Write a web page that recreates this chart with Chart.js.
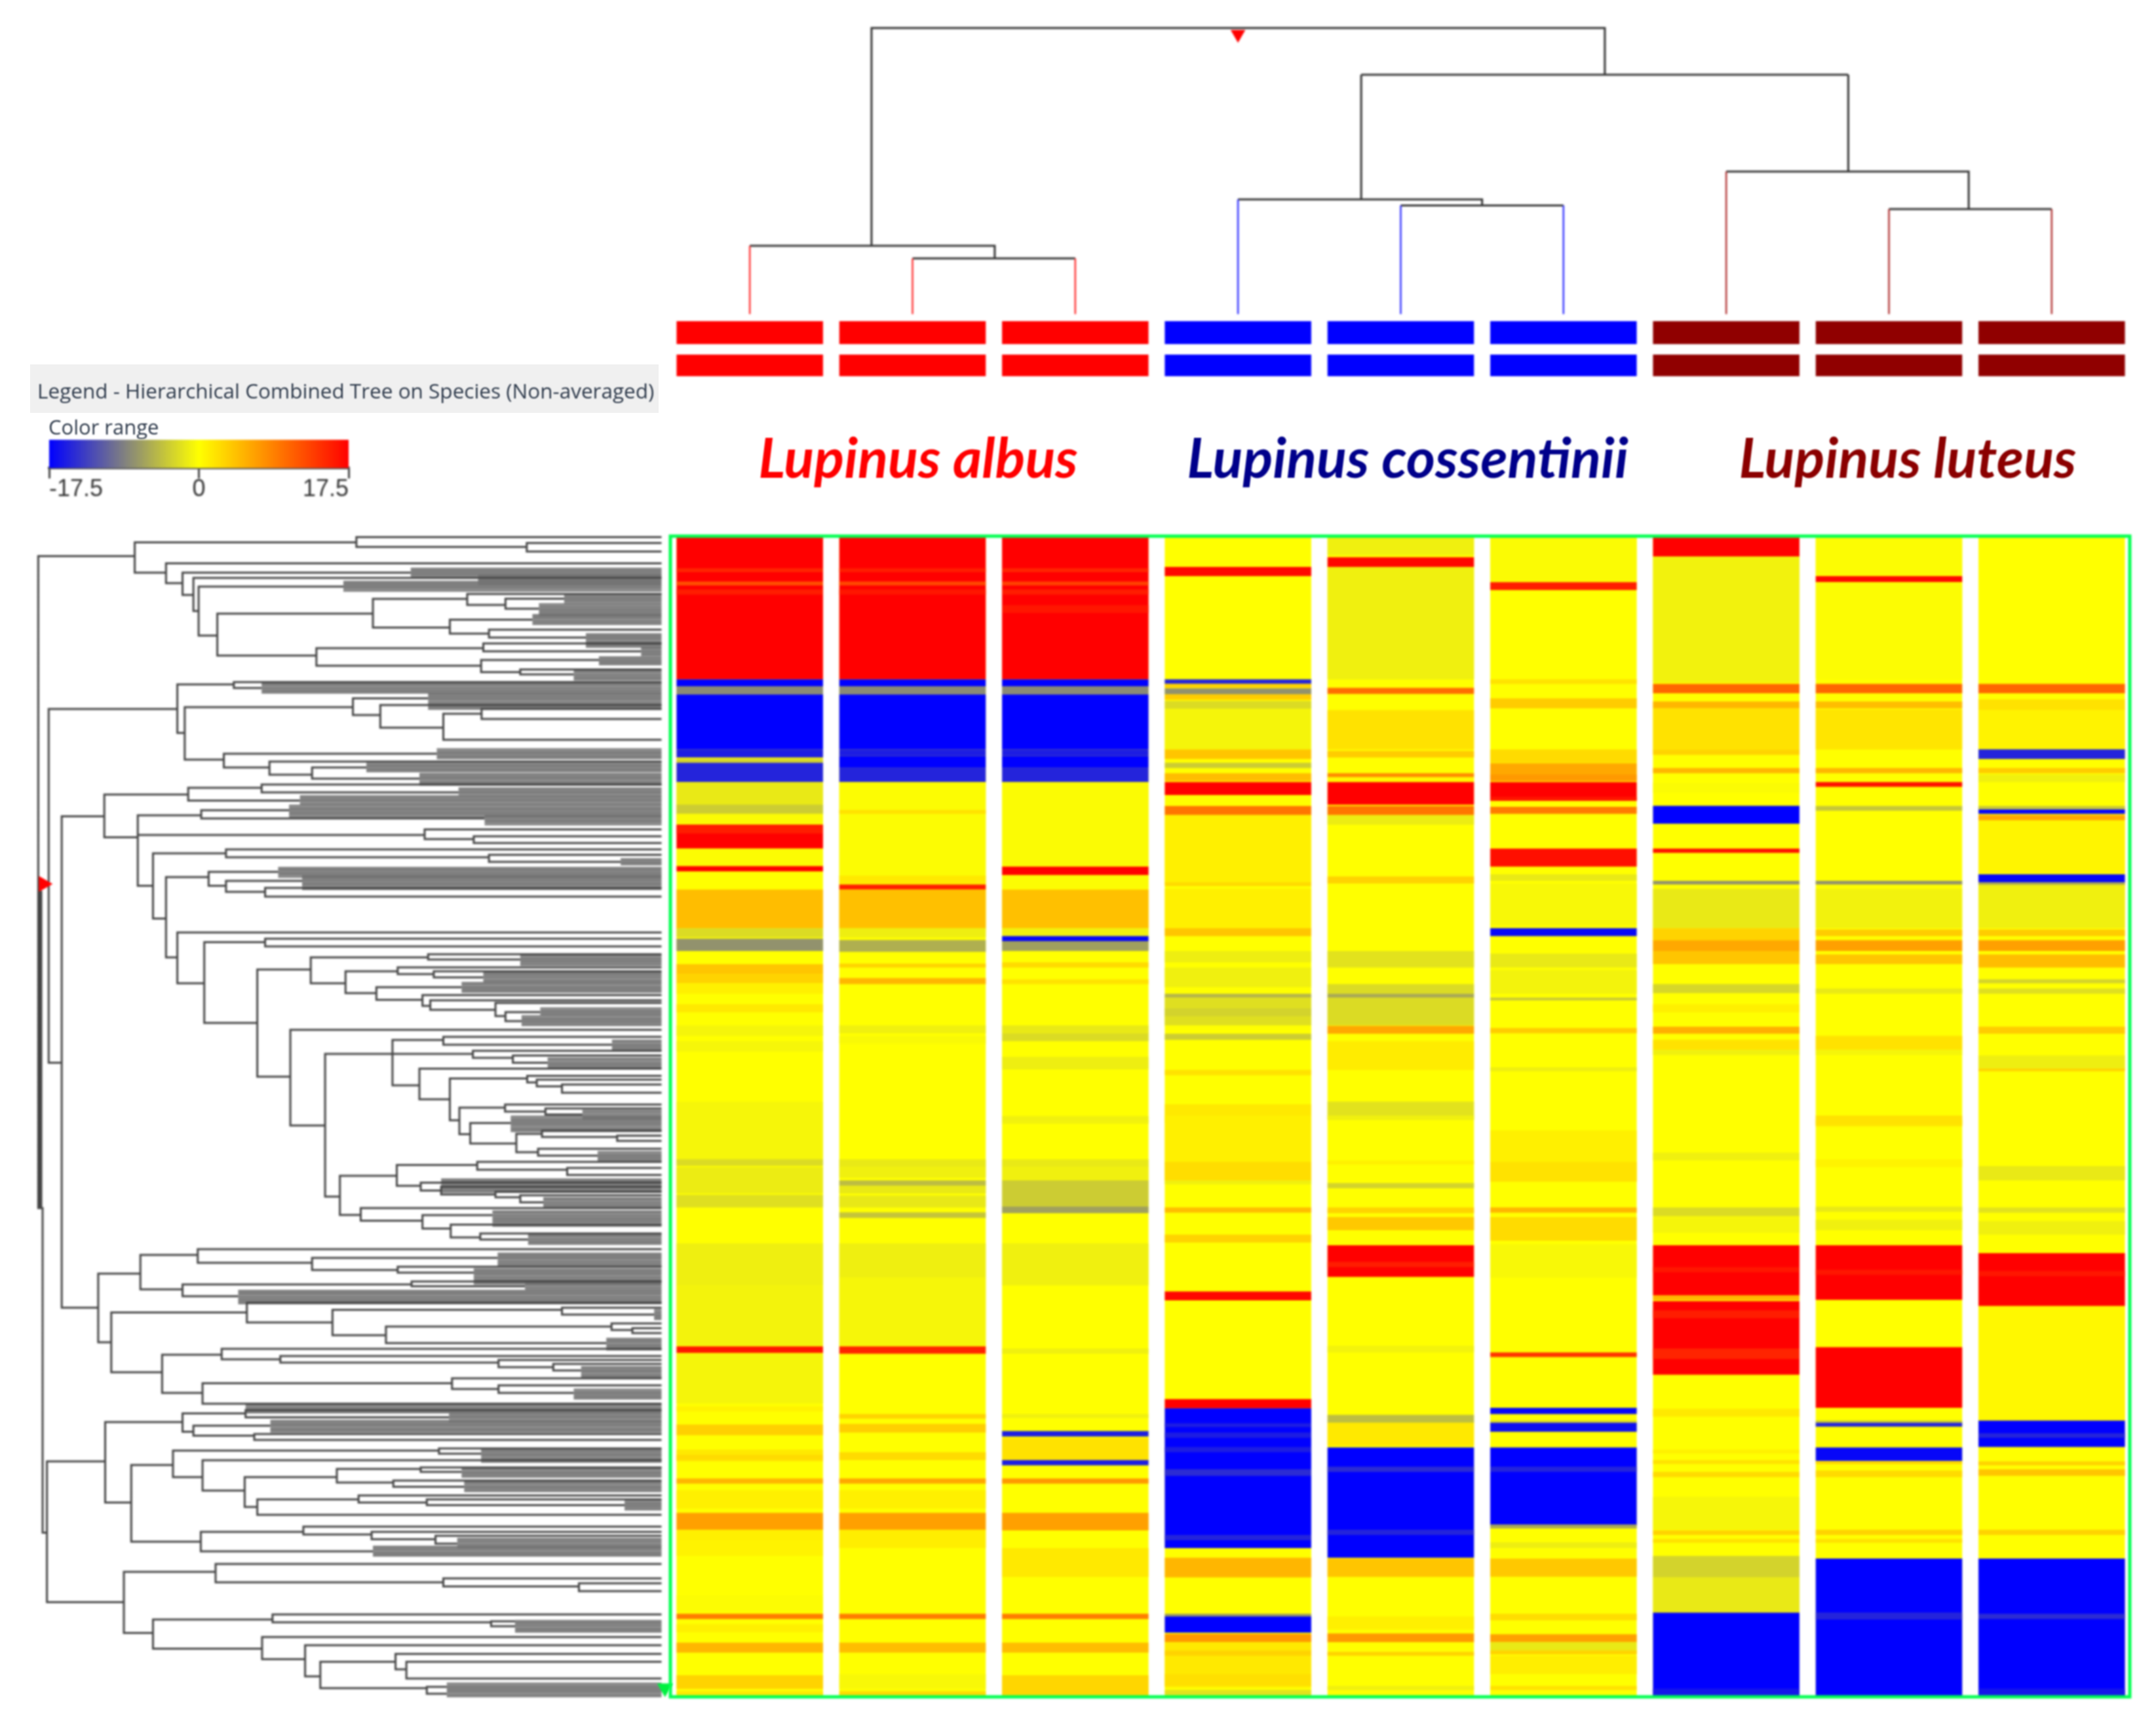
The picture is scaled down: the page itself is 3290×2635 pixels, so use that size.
<!DOCTYPE html>
<html lang="en">
<head>
  <meta charset="UTF-8" />
  <title>Hierarchical Combined Tree on Species</title>
  <script src="https://cdn.jsdelivr.net/npm/chart.js"></script>
  <style>
    body {
      margin: 0;
      background: #fff;
      width: 3290px;
      height: 2635px;
      position: relative;
      overflow: hidden;
    }
    canvas, .txt, #legendBand { position: absolute; }
    canvas { filter: blur(1.4px); }
    #legendBand { left: 46px; top: 556px; width: 959px; height: 74px; background: #f0f0f0; }
    .txt { white-space: nowrap; filter: blur(0.8px); }
    .legendText { font-family: "Open Sans", sans-serif; color: #2f3b4c; }
    .species {
      font-family: Lato, sans-serif;
      font-size: 85px;
      font-weight: bold;
      font-style: italic;
      line-height: 85px;
      width: 900px;
      text-align: center;
      top: 654px;
    }
  </style>
</head>
<body>
  <div id="legendBand"></div>
  <div class="txt legendText" style="left:57px;top:574px;font-size:31.5px">Legend - Hierarchical Combined Tree on Species (Non-averaged)</div>
  <div class="txt legendText" style="left:74px;top:630px;font-size:31px">Color range</div>
  <div class="txt species" style="left:951px;color:#ff0000">Lupinus albus</div>
  <div class="txt species" style="left:1698px;color:#00008b">Lupinus cossentinii</div>
  <div class="txt species" style="left:2461px;color:#8b0000">Lupinus luteus</div>

  <canvas id="topTree" width="2235" height="454" style="left:1020px;top:34px"></canvas>
  <canvas id="strips" width="2235" height="84" style="left:1020px;top:490px"></canvas>
  <canvas id="colorBar" width="467" height="103" style="left:70px;top:671px"></canvas>
  <canvas id="sideTree" width="1030" height="1794" style="left:0;top:807px"></canvas>
  <canvas id="heat" width="2235" height="1781" style="left:1020px;top:813px"></canvas>

  <script>
    Chart.defaults.animation = false;
    Chart.defaults.plugins.legend.display = false;
    Chart.defaults.plugins.tooltip.enabled = false;

    const samples = ['albus 1', 'albus 2', 'albus 3', 'cossentinii 1', 'cossentinii 2', 'cossentinii 3', 'luteus 1', 'luteus 2', 'luteus 3'];
    const stripColors = ['#ff0000', '#ff0000', '#ff0000', '#0000ff', '#0000ff', '#0000ff', '#900000', '#900000', '#900000'];
    const legendTicks = [-17.5, 0, 17.5];
    const rowCount = 441.4;

    // heat bands per sample: [first row, last row, log2 value]. later bands paint over earlier ones
    const albus1 = [[0,54.3,17.5],[12,13.5,15],[17,18.5,12],[20,22,15.5],[54.3,57,-17.5],[57,60,-8],[60,81,-17.5],[81,84,-15.5],[84.6,86,-3],[86,93.4,-15],
      [93.4,110,-1.5],[102,105.5,-3.5],[105.5,109.6,-0.3],[109.6,118.7,17.5],[110,113,15.5],[118.7,125.4,-0.2],[125.4,127.4,17.5],[134.3,149,4.5],[149,152.5,-2.5],[153,157.7,-7.5],
      [162.7,166.5,4],[166.5,170,3],[170,174,1],[178,181,1.5],[186,190,-0.7],[192,196,-0.6],[215,238,-0.6],[237,239.5,-2.5],[240,250,-1.3],[250.5,255.3,-2.2],[269,285,-1.1],[285,308,-0.8],
      [308.2,310.7,16],[311,330,-0.7],[331,333,0.8],[338,342,3.2],[347.5,352,1.5],[349.5,351.5,2.5],[358.5,360.5,5],[363,370,1],[371.6,378,6.5],[378,382,1],[382,388,0.8],
      [403,409,-0.2],[410,412,9],[414,417,1],[421,424.8,5],[433.4,438.6,3],[439.5,442.4,1.5]];
    const albus2 = [[0,54.3,17.5],[12,13.5,15.5],[17,18.5,12.5],[20,22,16],[54.3,57,-17.5],[57,60,-8],[60,81,-17.5],[81,83.5,-15.5],[83.5,88,-17.5],[88,93.4,-15],
      [93.4,150,-0.2],[104,105.5,2],[129,132,1.5],[132.4,134.3,15.5],[134.3,149,4.3],[149,152.5,-1.2],[153.5,158,-5.5],[162.5,164,3],[168,170.3,5],[186,189,-1],[190,193,-0.4],
      [237,240,-1.5],[240,244,-1],[245,247,-4.5],[247,250,-1.5],[250.8,255.3,-1.6],[257.2,259.3,-4],[269,282,-1.1],[282,308,-0.6],[308.2,311,15],[334,335.7,3],[337.7,341,3.3],[348.5,351.5,2.5],
      [358.5,360.5,6],[363,370,1],[371.6,378.3,6.5],[378,385,1.2],[410,412,9],[421,424.8,4.5],[433,438.6,-0.5],[439.5,442.4,2.5]];
    const albus3 = [[0,54.3,17.5],[12,13.5,15],[17,18.5,13],[20,22,15.5],[26,29,16],[54.3,57,-17.5],[57,60,-8],[60,81,-17.5],[81,83.5,-15.5],[83.5,88,-17.5],[88,93.4,-15],
      [93.4,125.5,-0.3],[125.6,128.8,17.5],[128.8,134,-0.2],[134.3,149,4.3],[149,152,-1],[152,154,-17],[154,157.7,-6.5],[162,164,2.5],[168.5,170.3,2],[186,189,-1.5],[189,192,-2.5],[198,202.8,-1.2],[222,223.5,-0.8],
      [220.5,222.5,-1],[237,240,-1.5],[240,245,-1],[245,250,-3.5],[250,255,-3.5],[255,257.5,-6.5],[269,285,-1],[309,311,-1],[334,335.5,-1],[340.5,342.5,-15.5],[343,352,2],[351.5,353.5,-15.5],
      [358.5,360.5,7],[371.6,378.3,6.5],[385,396,1.5],[410,412,9],[421,424.8,4.5],[433.4,442.4,2.8]];
    const cossentinii1 = [[11.5,15,17],[54.3,56,-15],[56,57.5,3],[57.7,60,-7.5],[60,62,3.5],[62.5,65.5,-2.5],[65.7,81,-0.7],[81,84.6,4],[86,88,-3.5],[90,93,4.5],[93.4,98.3,17.5],[102.5,105.9,9.5],
      [106,132,1],[131.5,133,2.5],[134,149,1],[149,152,4],[157.7,162,-1.2],[164,171.5,-1],[174,175.5,-5],[175.5,186,-2.2],[179.5,182.5,-3],[189.2,191.5,-3.5],[203,205,2],[216,223,1.5],
      [220.3,245,1],[238,245,2.3],[245,246.5,-1],[255.3,257.3,4.5],[265.7,268.7,3],[287.3,290.7,17],[328.3,331.8,17.5],[331.8,385,-17.5],[337.5,339,-15.5],[341,343,-15.5],[346.5,348.5,-15.5],[355,357.5,-14.5],[380,382,-15],
      [388.7,396.2,5],[410,411,-7],[411,417.2,-17.5],[417.7,420.8,7],[421,438,1.5],[424,426,3],[433,437.5,2.2],[439,441,-2]];
    const cossentinii2 = [[0,7,-1],[7.8,11.5,17],[11.5,54.3,-1],[57.5,59.8,10],[66,81,2],[81.5,84,3.5],[90,91.5,8],[91.5,93,0.5],[93.4,102,17.5],[102.5,105.9,9.5],[106,109.6,-1.3],[129.3,132,3],
      [157.7,164,-2],[170.3,174,-2.5],[174,175.5,-6],[175.5,186,-2.5],[186.2,189.2,6],[192,203,1.3],[215,222,-2],[220.3,222,-1],[237.5,239,1],[246,248,-3],[255.3,257.5,3],[259,264,3.8],
      [269.7,281.8,17.5],[276,278,15.5],[308,310.5,-0.8],[334.3,337.3,-4.5],[337.3,346,1.5],[346.7,388.7,-17.5],[354,356,-14.5],[378,380,-15],[389,396,4],[411,416,1],[417.5,420.8,7],[424.5,426,3],[437.5,439,-1]];
    const cossentinii3 = [[0,17,-0.3],[17.3,20.3,15.5],[54.3,56,2],[61.5,65.3,3.5],[81,86,2.5],[86.2,93,6],[90.5,93,7],[93.4,100.5,17.5],[99,100.5,16],[102.8,105.5,9],[118.7,125.6,16.5],[128.5,131,-1.5],[132,148,-0.5],
      [149,152,-17],[158.7,164,-1.5],[165,174,-0.8],[175.5,176.5,-4],[187,189,3.5],[202,203.5,-1.2],[226,245.5,1],[238,245.5,2],[255.3,257.3,5],[259,268,2.5],[269.4,282,-0.5],[310.5,312.3,14],
      [331.6,334,-17],[336.5,337.3,-3],[337.3,340.7,-16.5],[346.7,376.5,-17.5],[354,356,-15],[376,377.5,-6],[382.8,385,-1.2],[389,395.9,3.8],[410,412.5,2.3],[417.8,420.8,6.5],[420.8,425,-1.5],[424,425.5,3],[426,433,1.2],[437.5,439,2]];
    const luteus1 = [[0,7.5,17.5],[7.5,55.5,-0.9],[56,59.6,10.5],[62.7,65.3,5],[65.3,81,2],[81,83,3],[88,90,5],[93.7,97.5,-0.3],[102.4,109.2,-17.5],[118.7,120.3,16.5],[131,132.4,-7.5],[134,149,-1.5],
      [149,153.6,3],[153.6,157.7,6],[157.7,162.7,4],[170.3,173.7,-2.8],[178,181,1],[186.5,189.2,5.5],[191.5,195.3,2],[195.3,197.3,-1],[234.5,237.4,-1],[255.3,258.7,-2.5],[259,265,-0.7],
      [269.7,288.8,17.5],[278,280,16],[289,290.6,5],[291,319,17.5],[294.5,297.5,15.5],[309,313,15],[332,335,1.5],[347.5,349,1],[351.5,353,2],[356,358,2.5],[365.5,378,-0.6],[378.3,380,3],[381.5,383,2],
      [388,396.2,-3],[396.2,409.6,-1.5],[409.6,442.4,-17.5],[438.5,441,-16]];
    const luteus2 = [[0,14.5,-0.2],[15,17.2,17],[17.2,54,-0.2],[56,59.6,10.5],[62.7,65.3,4.5],[65.7,81,1.8],[88,90,5],[93.4,95.2,16.5],[102.5,104.3,-4],[131,132.4,-7.5],[134,149,-0.9],[149.5,152,3.5],[153.6,157.7,6.5],[159,162.7,4],
      [172,174,-1.5],[190,195.3,2],[195.3,197.3,-0.7],[222,224.5,1.5],[220.3,224,2],[237,240,0.8],[255,257,-1.5],[260,264,-1],[269.7,290.5,17.5],[279,281,16],[308.5,331.6,17.5],[336.5,337.3,-4],[337.3,338.8,-15],[346.7,351.8,-17],
      [352,353,3],[355.5,358,2.5],[378,380,3],[381.5,383,2],[389,442.4,-17.5],[409.5,412.2,-15]];
    const luteus3 = [[56,59.6,10.5],[61.9,66,2],[66,80.7,0.8],[80.9,84.6,-15],[88,90,3.5],[90.5,93.4,-1],[102.5,103.8,-4],[103.8,105.5,-17],[105.9,108,6],[108,128,0.7],[128.5,131.5,-17],[131.5,132.5,-6],[132.5,149,-1],
      [149.5,152,3.5],[153.6,157.7,6.5],[159,164,4.5],[168.5,170,-3],[172,174,-2.2],[186.5,189.2,3.5],[197.5,202.8,-1.2],[202.5,203.5,3],[239.6,245,-1.5],[255.3,257.3,-2],[260.5,265.7,-1],
      [272.7,292.9,17.5],[279.5,281.5,16],[292.9,336.5,0.5],[336.5,346.5,-17.5],[341.3,343,-15],[352,353.5,3],[355,357.5,4],[378,380,3],[389,442.4,-17.5],[410,412,-14.5],[438.5,441,-16]];
    const heatColumns = [albus1, albus2, albus3, cossentinii1, cossentinii2, cossentinii3, luteus1, luteus2, luteus3];

    // sample tree: [position, height] runs
    const topTreeLinks = [
      [[0.748, 23.9], [0.748, 100], [5.254, 100], [5.254, 83.7]],
      [[0, 23.9], [1.505, 23.9], [1.505, 19.5]],
      [[1, 19.5], [2, 19.5]],
      [[3.757, 83.7], [6.75, 83.7]],
      [[3.757, 83.7], [3.757, 40.1]],
      [[3, 40.1], [4.5, 40.1], [4.5, 38]],
      [[4, 38], [5, 38]],
      [[6.75, 83.7], [6.75, 49.8]],
      [[6, 49.8], [7.49, 49.8], [7.49, 36.7]],
      [[7, 36.7], [8, 36.7]]
    ];
    const topTreeLeafHeights = [23.9, 19.5, 19.5, 40.1, 38, 38, 49.8, 36.7, 36.7];
    const topTreeLeafColors = ['#ff3030', '#ff3030', '#ff3030', '#3030ff', '#3030ff', '#3030ff', '#b03030', '#b03030', '#b03030'];

    // row tree: [distance, top row, top child distance, bottom row, bottom child distance]
    const treeClades = [
      [310,2.1,820,13.7,382],[820,0.1,1522,3.9,1212],[1212,2.4,1522,5.6,1522],[382,10.1,1522,17.7,420],[420,13.7,945,22.2,445],[445,15.7,1522,28.3,457],[457,19,790,37.7,500],
      [500,29.3,858,45.3,728],[858,23.7,1075,34.6,1035],[1075,21.8,1522,26,1163],[1163,23.6,1298,27.4,1240],[1035,31.6,1225,36.9,1125],[1125,35.4,1522,38.4,1348],
      [728,42.5,1112,49.2,1107],[1112,40.7,1522,43.7,1475],[1107,47,1378,51.6,1197],[1197,50.6,1522,52.5,1320],
      [408,56.3,538,74.8,425],[538,55.4,1522,57.7,602],[425,65,812,85,515],[812,61.6,985,68,875],[875,64.2,1522,72.8,1020],[1020,67.5,1108,77.4,1522],[1108,65.7,1522,69.5,1522],
      [515,82.7,1005,88,620],[620,85.7,1522,90.7,718],[718,88,843,92.2,965],
      [240,98.3,433,114.6,317],[433,95.7,602,100.6,690],[602,94.5,1522,97.5,1055],[317,106.2,463,133.1,352],[463,104.3,665,107.4,1115],[977,111.6,1522,115.3,1090],[1090,114.2,1522,116.8,1522],
      [352,120.7,520,145.6,382],[520,119.2,1522,122.2,1125],[1125,121.3,1522,124,1428],[382,129.8,480,160.4,408],[480,127.8,640,133.1,520],[520,131.2,695,135.4,610],[610,133.9,1522,137.2,1522],
      [408,150.9,1522,170.3,470],[470,154.6,610,185.4,592],[610,153.3,1522,156.2,1522],[592,165,715,205.9,668],[715,160.4,985,170.3,795],[985,159.2,1522,161.2,1197],[795,165.7,915,174,866],
      [915,164.2,1522,166.8,998],[998,165.7,1522,168,1112],[866,171.8,1062,176.6,972],[972,174.8,1522,178.9,990],[990,176.8,1522,180.4,1140],[1140,177.8,1522,182.8,1163],[1163,181.3,1243,184.7,1200],
      [668,188,1522,224.5,748],[748,197.2,903,251.6,782],[903,191.9,1020,209.2,965],[1020,190.7,1522,193.7,1408],[1088,196,1522,198.7,1180],[1180,197.8,1522,200.6,1260],
      [965,202.8,1522,214.5,1035],[1035,206.6,1213,222.5,1057],[1213,205.6,1522,208.1,1235],[1235,207,1522,209.6,1293],[1293,208.9,1522,212,1522],[1057,217.7,1162,227.8,1082],[1162,216.5,1522,219.2,1255],[1255,218,1522,220.3,1340],
      [1082,223.6,1175,231.4,1188],[1188,227.7,1247,234.7,1238],[1247,226.5,1522,228.9,1420],[1420,228.4,1522,230.4,1522],[1238,233.4,1522,236,1375],
      [782,243.7,913,258.6,830],[913,239.6,1098,247.5,968],[1098,238.4,1522,241.4,1305],[1305,240.7,1522,243.4,1522],[968,246.3,1522,249.3,1015],[1015,247.8,1522,250.8,1140],[1140,249.8,1522,251.9,1197],[1197,251.1,1522,253.8,1250],
      [830,256,1522,260.8,972],[972,258.7,1133,263.8,1037],[1037,262.3,1522,267.2,1105],[1105,265.7,1522,268,1215],
      [226,281,323,307.2,256],[323,273.9,455,287,420],[455,271.7,1522,276.9,718],[718,275,1145,279.6,915],[915,278.4,1522,280.6,1090],[420,285.1,947,289.6,548],[947,284,1522,285.8,1208],
      [256,295.8,568,318.6,373],[568,292.1,1522,299.6,765],[765,294.8,1293,304.5,888],[1293,294,1522,296.6,1505],[888,301.2,1407,307.5,1395],[1407,300,1522,302.5,1455],[1455,301.8,1522,303.7,1522],
      [373,311.9,510,326.5,466],[510,309.7,1522,313.7,645],[645,312.4,1522,314.9,1147],[1147,313.9,1522,316.7,1273],[1273,315.4,1522,317.9,1337],[466,322.8,1040,330.6,1522],[1040,320.9,1522,325,1147],[1147,323.6,1522,326.5,1320],
      [242,337.6,420,368.3,302],[420,334.3,565,341.3,445],[565,333.1,1522,335.8,1033],[445,339,622,342.8,585],[585,342.2,1522,344.4,1522],
      [302,354,398,383.2,462],[398,348.5,1010,358.6,466],[1010,347.7,1522,349.7,1107],[466,352.2,1522,363.7,563],[563,358.6,775,370,592],[775,355.5,968,360.7,905],[968,354.9,1522,356.6,1062],[905,359.9,1522,362.3,1068],
      [592,367.1,825,373,1522],[825,365.6,1522,368.3,982],[982,367.1,1522,369.3,1437],[462,379.5,698,386.9,858],[698,377.5,1522,380.5,855],[855,379.5,1522,382.3,1002],[1002,381,1522,384,1052],
      [285,394.7,496,418,352],[496,391.7,1522,398.7,1020],[1020,397.2,1522,400.3,1332],[1332,399.1,1522,402.1,1522],[352,412.9,627,424,603],[627,411,1522,414,1130],[1130,413.6,1185,415.5,1185],
      [603,419.6,1522,428,702],[702,422.7,1522,434.6,737],[737,429,910,439.1,982],[910,426,1522,431.9,935],[935,429,1522,435.4,1522],[982,438.6,1028,441.2,1028]
    ];
    // joins that do not fit the two-child form
    const treeLinks = [
      [[310,7.4],[88,7.4],[88,256],[98,256],[98,379.8],[108,379.8]],
      [[91,135],[91,256]],
      [[95,135],[95,256]],
      [[408,65.7],[112,65.7],[112,200.6],[142,200.6]],
      [[240,106.6],[142,106.6],[142,294],[226,294]],
      [[242,352.6],[108,352.6],[108,406.3],[285,406.3]],
      [[317,113.7],[977,113.7]],
      [[903,197.2],[1088,197.2]]
    ];
    // dense leaf runs: [distance, first row, last row]
    const treeBundles = [
      [945,12.7,15],[1100,15,17.7],[790,17.7,20.3],[1298,22.5,24.8],[1240,26.3,29.3],[1225,30.4,33.1],[1348,37.7,41.5],[1475,43,45.3],[1378,46.5,48.6],[1320,51.6,54.1],
      [602,56.6,59.2],[985,60.7,65.7],[1005,81.6,84.6],[843,86.6,89.5],[965,91,94.5],[1055,96.5,98.6],[690,99.5,102],[665,103.1,106.2],[1115,106.8,109.2],[1428,123.5,125],
      [640,126.8,129.3],[695,130.1,133.9],[1197,160.4,162.7],[1112,166.8,169.2],[1062,170.7,173.3],[1243,180.4,182.4],[1200,183.4,185.9],[1408,192.7,195.3],[1260,199.5,202],[1340,219.5,222],
      [1175,221.7,226.2],[1375,235.2,238.1],[1015,245.6,249.3],[1250,252.8,255.7],[1133,257.8,262.3],[1215,266.8,269.4],[1145,273.9,277.6],[1090,279.9,284.4],[1208,284.6,287.3],[548,288.1,292.1],
      [1505,295.5,298],[1395,306.4,309.4],[1337,317.2,320.4],[1320,325.8,328.3],[565,331.8,333.9],[1033,334.7,337.3],[622,337.7,340.7],[1107,348.5,352.2],[1062,355.6,358.1],[1068,361.1,364],
      [1437,368.1,370.5],[1052,382.7,385.4],[858,385.7,388.4],[1185,414,417],[1028,437.9,442]
    ];
    const treeLeafEnd = 1522;

    // blue through grey to yellow below zero, yellow to red above
    function heatColor(v) {
      const t = Math.abs(v) / 17.5;
      if (v >= 0) return `rgb(255,${Math.round(255 * (1 - t))},0)`;
      const c = Math.round(255 * (1 - t));
      return `rgb(${c},${c},${Math.round(255 * t)})`;
    }

    function joinRuns(runs) {
      const pts = [];
      runs.forEach(run => {
        run.forEach(p => pts.push({ x: p[0], y: p[1] }));
        pts.push({ x: null, y: null });
      });
      return pts;
    }

    function treeLine(data, color, width) {
      return { data, borderColor: color, borderWidth: width, showLine: true, pointRadius: 0, clip: false, spanGaps: false };
    }

    function marker(x, y, color, rotation, radius) {
      return { data: [{ x, y }], pointStyle: 'triangle', pointRotation: rotation, pointRadius: radius, pointBackgroundColor: color, pointBorderWidth: 0, showLine: false, clip: false };
    }

    const hidden = { display: false };

    // heat map, one overlay dataset per band layer
    const bandLayers = Math.max(...heatColumns.map(c => c.length));
    const heatDatasets = [{
      data: samples.map(() => [0, rowCount]),
      backgroundColor: heatColor(0)
    }];
    for (let i = 0; i < bandLayers; i++) {
      heatDatasets.push({
        data: heatColumns.map(c => c[i] ? [c[i][0], c[i][1]] : null),
        backgroundColor: heatColumns.map(c => c[i] ? heatColor(c[i][2]) : 'transparent')
      });
    }
    heatDatasets.forEach((d, i) => {
      d.order = -i;
      d.grouped = false;
      d.barPercentage = 0.9;
      d.categoryPercentage = 1;
      d.borderWidth = 0;
    });

    const greenBox = {
      id: 'greenBox',
      afterDraw(chart) {
        const a = chart.chartArea, c = chart.ctx;
        c.save();
        c.strokeStyle = '#00ff50';
        c.lineWidth = 5;
        c.strokeRect(a.left + 3, a.top - 1, a.width - 8, a.height + 2);
        c.restore();
      }
    };

    new Chart(document.getElementById('heat'), {
      type: 'bar',
      data: { labels: samples, datasets: heatDatasets },
      plugins: [greenBox],
      options: {
        responsive: false,
        layout: { padding: { top: 6, bottom: 6 } },
        scales: {
          x: hidden,
          y: { display: false, reverse: true, min: 0, max: rowCount }
        }
      }
    });

    // sample dendrogram on top
    const leafRuns = topTreeLeafHeights.map((h, i) => ({ i, h }));
    new Chart(document.getElementById('topTree'), {
      type: 'scatter',
      data: {
        datasets: [
          ...leafRuns.map(l => treeLine([{ x: l.i, y: l.h }, { x: l.i, y: 0 }], topTreeLeafColors[l.i], 2.5)),
          treeLine(joinRuns(topTreeLinks), '#333333', 3),
          marker(3, 97.8, '#ff0000', 180, 13)
        ]
      },
      options: {
        responsive: false,
        layout: { autoPadding: false },
        scales: {
          x: { display: false, min: -0.5, max: 8.5 },
          y: { display: false, min: -2, max: 102 }
        }
      }
    });

    // species strips
    new Chart(document.getElementById('strips'), {
      type: 'bar',
      data: {
        labels: samples,
        datasets: [[0, 1], [1.46, 2.4]].map(span => ({
          data: samples.map(() => span),
          backgroundColor: stripColors,
          grouped: false,
          barPercentage: 0.9,
          categoryPercentage: 1,
          borderWidth: 0
        }))
      },
      options: {
        responsive: false,
        scales: {
          x: hidden,
          y: { display: false, reverse: true, min: 0, max: 2.4 }
        }
      }
    });

    // colour range
    new Chart(document.getElementById('colorBar'), {
      type: 'bar',
      data: {
        labels: ['Color range'],
        datasets: [{
          data: [[legendTicks[0], legendTicks[2]]],
          barPercentage: 1,
          categoryPercentage: 1,
          borderWidth: 0,
          backgroundColor(ctx) {
            const a = ctx.chart.chartArea;
            if (!a) return heatColor(0);
            const g = ctx.chart.ctx.createLinearGradient(a.left, 0, a.right, 0);
            [-17.5, -8.75, 0, 8.75, 17.5].forEach(v => g.addColorStop((v + 17.5) / 35, heatColor(v)));
            return g;
          }
        }]
      },
      options: {
        indexAxis: 'y',
        responsive: false,
        layout: { padding: { left: 5, right: 5 } },
        scales: {
          y: { display: false },
          x: {
            min: legendTicks[0],
            max: legendTicks[2],
            afterBuildTicks(scale) { scale.ticks = legendTicks.map(value => ({ value })); },
            afterFit(scale) { scale.height = 60; },
            border: { color: '#555555', width: 4 },
            grid: { drawOnChartArea: false, color: '#444444', lineWidth: 3, tickLength: 16 },
            ticks: {
              align: 'inner',
              autoSkip: false,
              maxRotation: 0,
              padding: -1,
              color: '#333333',
              font: { family: '"Liberation Sans"', size: 36, lineHeight: 1 },
              callback: v => String(v)
            }
          }
        }
      }
    });

    // row dendrogram on the left, leaves of a dense run fill the row height either side
    const cladeRuns = treeClades.map(c => [[c[2], c[1]], [c[0], c[1]], [c[0], c[3]], [c[4], c[3]]]);
    const bundleRuns = [];
    treeBundles.forEach(b => {
      for (let r = b[1] - 0.6; r <= b[2] + 0.6; r += 0.7) bundleRuns.push([[b[0], r], [treeLeafEnd, r]]);
    });
    new Chart(document.getElementById('sideTree'), {
      type: 'scatter',
      data: {
        datasets: [
          marker(100, 132.4, '#ff0000', 90, 14),
          marker(1530, 439, '#00f040', 180, 14),
          treeLine(joinRuns(cladeRuns.concat(treeLinks)), '#444444', 3),
          treeLine(joinRuns(bundleRuns), '#747474', 2.5)
        ]
      },
      options: {
        responsive: false,
        layout: { autoPadding: false },
        scales: {
          x: { display: false, min: 0, max: 1553 },
          y: { display: false, reverse: true, min: -3, max: 445.4 }
        }
      }
    });
  </script>
</body>
</html>
